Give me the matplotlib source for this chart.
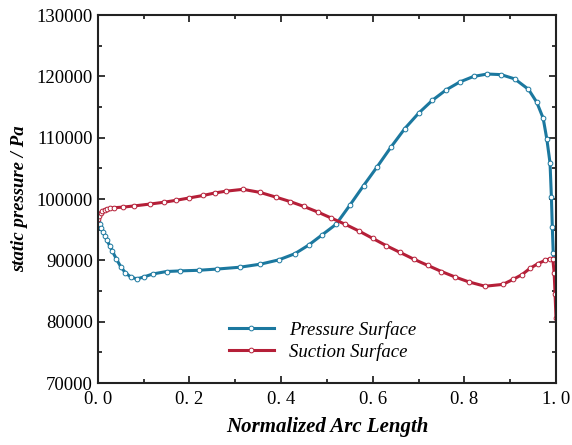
import matplotlib
matplotlib.use("Agg")
import matplotlib.pyplot as plt
from matplotlib.ticker import MultipleLocator, FuncFormatter

# Pressure surface (blue)
ps_x = [0.000, 0.004, 0.008, 0.012, 0.016, 0.020, 0.026, 0.032, 0.040, 0.050,
        0.060, 0.072, 0.085, 0.10, 0.12, 0.15, 0.18, 0.22, 0.26, 0.31,
        0.355, 0.395, 0.43, 0.46, 0.49, 0.52, 0.55, 0.58, 0.61, 0.64,
        0.67, 0.70, 0.73, 0.76, 0.79, 0.82, 0.85, 0.88, 0.91, 0.94,
        0.958, 0.972, 0.980, 0.987, 0.990, 0.992, 0.994, 0.996]
ps_y = [96300, 96000, 95300, 94600, 94000, 93300, 92400, 91500, 90300, 89000,
        88000, 87300, 87000, 87300, 87800, 88200, 88300, 88400, 88600, 88900,
        89400, 90100, 91100, 92500, 94200, 95900, 99000, 102200, 105300, 108500,
        111500, 114000, 116100, 117800, 119100, 120000, 120400, 120300, 119600, 117900,
        115800, 113200, 109800, 105900, 100300, 95400, 91200, 90000]

# Suction surface (red)
ss_x = [0.000, 0.003, 0.006, 0.010, 0.015, 0.020, 0.026, 0.035, 0.055, 0.08,
        0.114, 0.145, 0.17, 0.20, 0.23, 0.255, 0.28, 0.317, 0.354, 0.39,
        0.42, 0.45, 0.48, 0.51, 0.54, 0.57, 0.60, 0.63, 0.66, 0.69,
        0.72, 0.75, 0.78, 0.81, 0.845, 0.884, 0.906, 0.926, 0.943, 0.961,
        0.976, 0.987, 0.993, 0.996, 0.998, 1.0]
ss_y = [96800, 97300, 97800, 98100, 98300, 98400, 98500, 98600, 98700, 98900,
        99200, 99500, 99800, 100200, 100600, 101000, 101300, 101600, 101100, 100300,
        99600, 98800, 97900, 96900, 95900, 94800, 93600, 92400, 91300, 90200,
        89200, 88200, 87300, 86500, 85800, 86100, 86900, 87700, 88700, 89500,
        90000, 90300, 90300, 88000, 84500, 80600]

labels = ["Pressure Surface", "Suction Surface"]
colors = ["#1b789f", "#b51f38"]

serif = ["Liberation Serif", "DejaVu Serif"]
plt.rcParams["font.family"] = serif

fig = plt.figure(figsize=(5.72, 4.45), dpi=100)
ax = fig.add_axes([0.171, 0.139, 0.801, 0.827])

for xs, ys, lab, c in [(ps_x, ps_y, labels[0], colors[0]), (ss_x, ss_y, labels[1], colors[1])]:
    ax.plot(xs, ys, color=c, lw=2.2, marker="o", ms=3.4, mfc="white",
            mec=c, mew=0.7, label=lab)

ax.set_xlim(0, 1.0)
ax.set_ylim(70000, 130000)
ax.xaxis.set_major_locator(MultipleLocator(0.2))
ax.xaxis.set_minor_locator(MultipleLocator(0.1))
ax.yaxis.set_major_locator(MultipleLocator(10000))
ax.yaxis.set_minor_locator(MultipleLocator(5000))
ax.xaxis.set_major_formatter(FuncFormatter(lambda v, p: ("%.1f" % v).replace(".", ". ")))
ax.yaxis.set_major_formatter(FuncFormatter(lambda v, p: "%d" % v))

ax.tick_params(which="both", direction="in", top=True, right=True, labelsize=13.5, width=1.1)
ax.tick_params(which="major", length=5)
ax.tick_params(which="minor", length=3)
ax.tick_params(axis="x", pad=6)
for s in ax.spines.values():
    s.set_linewidth(1.5)
    s.set_color("#222222")

ax.set_xlabel("Normalized Arc Length", fontsize=15, fontweight="bold", fontstyle="italic", labelpad=6)
ax.set_ylabel("static pressure / Pa", fontsize=13.5, fontweight="bold", fontstyle="italic", labelpad=6)

leg = ax.legend(loc="center", bbox_to_anchor=(0.49, 0.115), frameon=False,
                prop={"family": serif, "style": "italic", "size": 13.5},
                handlelength=2.4, labelspacing=0.2, handletextpad=0.8)

fig.savefig("out.png", dpi=100)
